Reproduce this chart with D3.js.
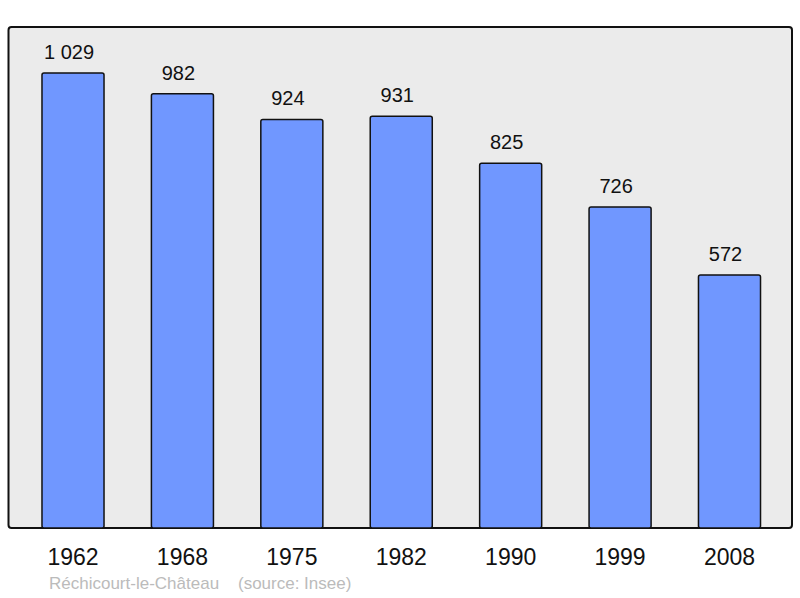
<!DOCTYPE html>
<html>
<head>
    <meta charset="utf-8">
    <script src="https://d3js.org/d3.v7.min.js"></script>
    <style>
        body { margin: 0; background: #fff; }
        text { font-family: "Liberation Sans", Arial, sans-serif; }
    </style>
</head>
<body>
    <svg width="800" height="598"></svg>
    <script>
        const years = ["1962", "1968", "1975", "1982", "1990", "1999", "2008"];
        const population = [1029, 982, 924, 931, 825, 726, 572];
        const place = "Réchicourt-le-Château";
        const source = "(source: Insee)";

        const svg = d3.select("svg");
        const frame = { left: 8.5, top: 27, right: 792, bottom: 528 };

        const x = d3.scaleBand()
            .domain(years)
            .range([18.3, 784.2])
            .paddingInner(0.433)
            .paddingOuter(0.2165);

        const y = d3.scaleLinear()
            .domain([0, 1133])
            .range([frame.bottom, frame.top]);

        // plot background
        svg.append("rect")
            .attr("x", frame.left).attr("y", frame.top)
            .attr("width", frame.right - frame.left)
            .attr("height", frame.bottom - frame.top)
            .attr("rx", 3)
            .attr("fill", "#ebebeb")
            .attr("stroke", "#111")
            .attr("stroke-width", 2);

        // bars
        svg.selectAll("rect.bar")
            .data(population)
            .enter().append("rect")
            .attr("class", "bar")
            .attr("x", (d, i) => x(years[i]))
            .attr("y", d => y(d))
            .attr("width", x.bandwidth())
            .attr("height", d => y(0) - y(d))
            .attr("rx", 2)
            .attr("fill", "#7097ff")
            .attr("stroke", "#111")
            .attr("stroke-width", 1.5);

        // value labels (sit a little left of the bar centre, as in the original)
        svg.selectAll("text.value")
            .data(population)
            .enter().append("text")
            .attr("class", "value")
            .attr("x", (d, i) => x(years[i]) + x.bandwidth() / 2 - 4)
            .attr("y", d => y(d) - 14)
            .attr("text-anchor", "middle")
            .attr("font-size", "20px")
            .attr("fill", "#111")
            .text(d => d3.format(",")(d).replace(",", " "));

        // x axis (years)
        const xAxis = svg.append("g")
            .attr("transform", `translate(0, ${frame.bottom})`)
            .call(d3.axisBottom(x).tickSize(0).tickPadding(37));
        xAxis.select(".domain").remove();
        xAxis.selectAll("text")
            .attr("font-size", "23px")
            .attr("font-family", "Liberation Sans, Arial, sans-serif")
            .attr("fill", "#111")
            .attr("dy", 0);

        // footer
        svg.append("text")
            .attr("x", 49).attr("y", 589)
            .attr("font-size", "17px")
            .attr("fill", "#bbbbbb")
            .attr("xml:space", "preserve")
            .text(place + "    " + source);
    </script>
</body>
</html>
